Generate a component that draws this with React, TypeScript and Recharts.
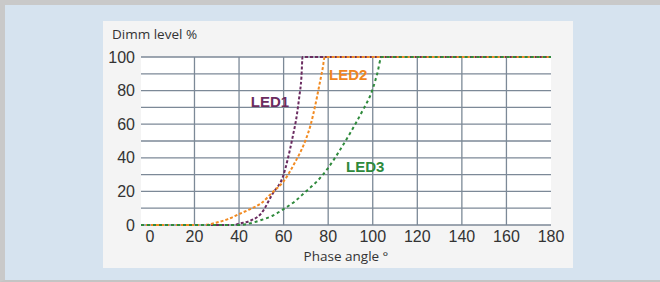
import React from "react";
import {
  LineChart,
  Line,
  XAxis,
  YAxis,
  CartesianGrid,
  ReferenceLine,
  ReferenceDot,
} from "recharts";

// phase angle (deg) / dimm level (%) per lamp
const led1Angle = [-4, 38, 40, 45, 50, 55, 60, 62, 64, 66, 67, 68, 68.5, 180];
const led1Level = [0, 0, 0.8, 2.5, 7, 18.5, 30, 40, 52, 66, 76, 88, 100, 100];

const led2Angle = [-4, 24, 30, 35, 40, 45, 50, 55, 60, 65, 70, 72, 74, 76, 77.5, 78.5, 180];
const led2Level = [0, 0, 1.5, 3.5, 6.5, 9.5, 13, 19.5, 26, 37, 51, 59, 70, 83, 93, 100, 100];

const led3Angle = [-4, 40, 45, 50, 55, 60, 65, 70, 75, 80, 85, 90, 95, 100, 102, 104, 180];
const led3Level = [0, 0, 1, 3, 5.5, 9.5, 14, 20, 26, 34, 44, 55, 67, 81, 90, 100, 100];

const xTicks = [0, 20, 40, 60, 80, 100, 120, 140, 160, 180];
const yTicks = [0, 20, 40, 60, 80, 100];
const gridX = [20, 40, 60, 80, 100, 120, 140, 160];
const gridY = [0, 10, 20, 30, 40, 50, 60, 70, 80, 90, 100];

// label anchor points (angle, level)
const seriesLabels = [
  { name: "LED1", angle: 45.3, level: 70.2, color: "#6b2c60" },
  { name: "LED2", angle: 80.4, level: 86.5, color: "#f0861f" },
  { name: "LED3", angle: 88, level: 31.7, color: "#2f8a3c" },
];

const toPoints = (a: number[], l: number[]) =>
  a.map((angle, i) => ({ angle, level: l[i] }));

const led1 = toPoints(led1Angle, led1Level);
const led2 = toPoints(led2Angle, led2Level);
const led3 = toPoints(led3Angle, led3Level);

const tickFont = {
  fontSize: 16,
  fill: "#333",
  fontFamily: "'Liberation Sans Narrow', 'Liberation Sans', Arial, sans-serif",
};
const titleFont = "'Open Sans', 'Liberation Sans', sans-serif";
const gridColor = "#7c8997";

export default function App() {
  return (
    <div
      style={{
        position: "absolute",
        left: 0,
        top: 0,
        width: 660,
        height: 282,
        boxSizing: "border-box",
        background: "#d6e3ef",
        borderTop: "5px solid #c9c9c9",
        borderLeft: "5px solid #c9c9c9",
        borderBottom: "2px solid #c4c4c4",
        overflow: "hidden",
      }}
    >
      <div
        style={{
          position: "absolute",
          left: 98,
          top: 16,
          width: 470,
          height: 247,
          background: "#f4f4f4",
        }}
      />
      <div style={{ position: "absolute", left: -5, top: -5 }}>
        <LineChart
          width={660}
          height={282}
          margin={{ top: 57, right: 109, bottom: 27, left: 0 }}
        >
          <CartesianGrid horizontal={false} vertical={false} fill="#ffffff" />
          <XAxis
            type="number"
            dataKey="angle"
            domain={[-4, 180]}
            ticks={xTicks}
            height={30}
            axisLine={false}
            tickLine={false}
            tickSize={4}
            tickMargin={2}
            tick={tickFont}
            allowDuplicatedCategory={false}
          />
          <YAxis
            type="number"
            domain={[0, 100]}
            ticks={yTicks}
            width={141}
            axisLine={false}
            tickLine={false}
            tickSize={4}
            tickMargin={2}
            tick={tickFont}
          />
          {gridY.map((v) => (
            <ReferenceLine key={"y" + v} y={v} stroke={gridColor} strokeWidth={1.3} />
          ))}
          {gridX.map((v) => (
            <ReferenceLine key={"x" + v} x={v} stroke={gridColor} strokeWidth={1.3} />
          ))}
          <Line
            data={led1}
            dataKey="level"
            type="monotone"
            stroke="#6b2c60"
            strokeWidth={2}
            strokeDasharray="3 2"
            dot={false}
            isAnimationActive={false}
          />
          <Line
            data={led2}
            dataKey="level"
            type="monotone"
            stroke="#f28b22"
            strokeWidth={2}
            strokeDasharray="3 2"
            dot={false}
            isAnimationActive={false}
          />
          <Line
            data={led3}
            dataKey="level"
            type="monotone"
            stroke="#2f8a3c"
            strokeWidth={2}
            strokeDasharray="3 3"
            dot={false}
            isAnimationActive={false}
          />
          {seriesLabels.map((s) => (
            <ReferenceDot
              key={s.name}
              x={s.angle}
              y={s.level}
              r={0}
              stroke="none"
              fill="none"
              label={(props: any) => {
                const vb = props.viewBox || {};
                return (
                  <text
                    x={vb.x}
                    y={vb.y}
                    fill={s.color}
                    fontSize={15}
                    fontWeight="bold"
                    fontFamily="'Liberation Sans', Arial, sans-serif"
                  >
                    {s.name}
                  </text>
                );
              }}
            />
          ))}
        </LineChart>
      </div>
      <div
        style={{
          position: "absolute",
          left: 107,
          top: 20,
          fontFamily: titleFont,
          fontSize: 13.5,
          color: "#333",
          whiteSpace: "nowrap",
        }}
      >
        Dimm level %
      </div>
      <div
        style={{
          position: "absolute",
          left: 241,
          width: 200,
          top: 242,
          textAlign: "center",
          fontFamily: titleFont,
          fontSize: 13.5,
          color: "#333",
          whiteSpace: "nowrap",
        }}
      >
        Phase angle °
      </div>
    </div>
  );
}
